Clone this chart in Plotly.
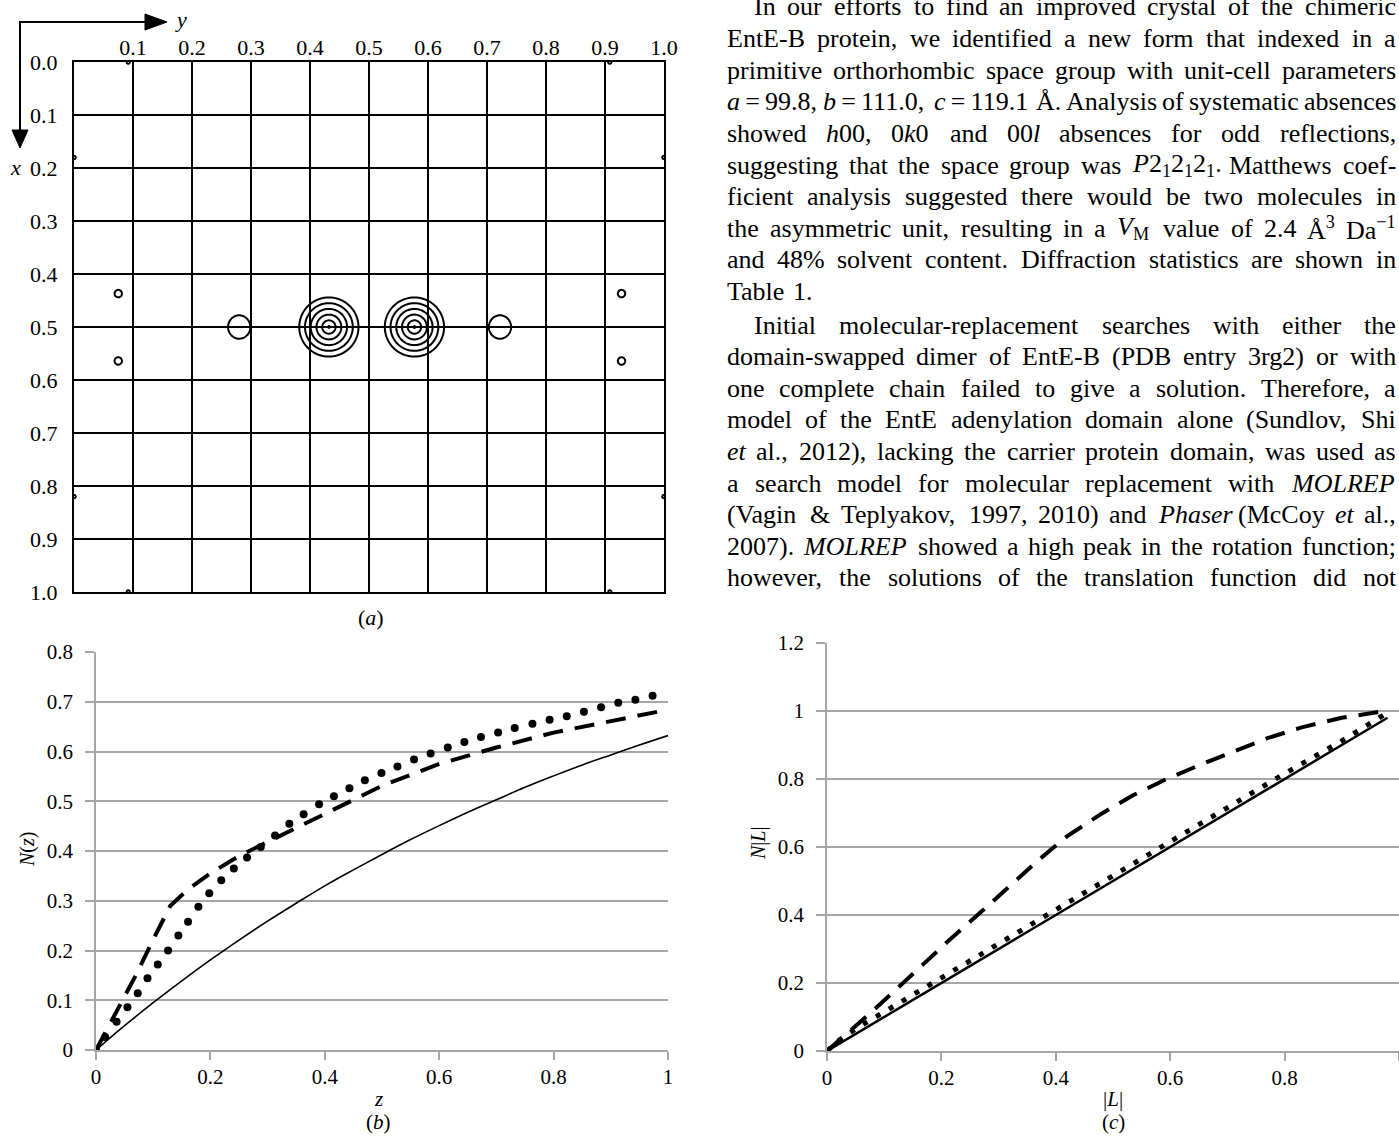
import re
import numpy as np
import plotly.graph_objects as go

W, H = 1399, 1136
def PX(x): return x / W
def PY(y): return 1 - y / H

SERIF = "Liberation Serif"

# ---------------- Panel (a): peaks of the map (y, x, height, width_y, width_x) -------------
peak_y  = [0.432, 0.577, 0.280, 0.722, 0.075, 0.075, 0.928, 0.928,
           0.092, 0.908, 0.092, 0.908, 0.0, 1.0, 0.0, 1.0]
peak_x  = [0.500, 0.500, 0.500, 0.500, 0.437, 0.564, 0.437, 0.564,
           0.0, 0.0, 1.0, 1.0, 0.18, 0.18, 0.82, 0.82]
peak_h  = [1.0, 1.0, 0.2, 0.2, 0.12, 0.12, 0.12, 0.12,
           0.1, 0.1, 0.1, 0.1, 0.1, 0.1, 0.1, 0.1]
peak_wy = [0.054, 0.054, 0.029, 0.029, 0.015, 0.015, 0.015, 0.015,
           0.010, 0.010, 0.010, 0.010, 0.010, 0.010, 0.010, 0.010]
peak_wx = [0.060, 0.060, 0.034, 0.034, 0.017, 0.017, 0.017, 0.017,
           0.011, 0.011, 0.011, 0.011, 0.011, 0.011, 0.011, 0.011]
a_ticks = [0.0, 0.1, 0.2, 0.3, 0.4, 0.5, 0.6, 0.7, 0.8, 0.9, 1.0]
a_ticktext = ["0.0", "0.1", "0.2", "0.3", "0.4", "0.5", "0.6", "0.7", "0.8", "0.9", "1.0"]

# ---------------- Panel (b): N(z) -----------------
b_theory_z = [0, 0.02, 0.05, 0.1, 0.15, 0.2, 0.25, 0.3, 0.35, 0.4, 0.45, 0.5, 0.55, 0.6, 0.65,
              0.7, 0.75, 0.8, 0.85, 0.9, 0.95, 1.0]
b_theory_n = [0, 0.020, 0.049, 0.095, 0.139, 0.181, 0.221, 0.259, 0.295, 0.330, 0.362, 0.393,
              0.423, 0.451, 0.478, 0.503, 0.528, 0.551, 0.573, 0.593, 0.613, 0.632]
b_dash_z = [0, 0.03, 0.07, 0.10, 0.13, 0.16, 0.2, 0.25, 0.3, 0.35, 0.4, 0.5, 0.6, 0.7, 0.8, 0.9, 1.0]
b_dash_n = [0, 0.063, 0.151, 0.222, 0.290, 0.322, 0.355, 0.390, 0.418, 0.448, 0.476, 0.531,
            0.575, 0.608, 0.638, 0.661, 0.684]
b_dot_z = [0.0, 0.016, 0.036, 0.055, 0.073, 0.090, 0.108, 0.126, 0.144, 0.161, 0.179, 0.198, 0.219,
           0.241, 0.264, 0.288, 0.313, 0.338, 0.363, 0.390, 0.416, 0.443, 0.470, 0.499, 0.527,
           0.556, 0.585, 0.615, 0.644, 0.673, 0.703, 0.732, 0.763, 0.793, 0.823, 0.853, 0.883,
           0.913, 0.943, 0.973]
b_dot_n = [0.0, 0.026, 0.057, 0.086, 0.114, 0.144, 0.172, 0.200, 0.230, 0.258, 0.288, 0.315, 0.341,
           0.365, 0.387, 0.408, 0.431, 0.455, 0.474, 0.494, 0.510, 0.526, 0.542, 0.557, 0.570,
           0.584, 0.596, 0.608, 0.619, 0.629, 0.638, 0.647, 0.656, 0.664, 0.671, 0.680, 0.689,
           0.698, 0.704, 0.712]
b_xticks = [0, 0.2, 0.4, 0.6, 0.8, 1.0]
b_xtext = ["0", "0.2", "0.4", "0.6", "0.8", "1"]
b_yticks = [0, 0.1, 0.2, 0.3, 0.4, 0.5, 0.6, 0.7, 0.8]
b_ytext = ["0", "0.1", "0.2", "0.3", "0.4", "0.5", "0.6", "0.7", "0.8"]

# ---------------- Panel (c): N|L| -----------------
c_theory_l = [0, 0.98]
c_theory_n = [0, 0.98]
c_dot_l = [0, 0.02, 0.05, 0.1, 0.2, 0.3, 0.4, 0.5, 0.6, 0.7, 0.8, 0.9, 0.975]
c_dot_n = [0, 0.030, 0.065, 0.115, 0.216, 0.316, 0.417, 0.517, 0.616, 0.716, 0.816, 0.912, 0.990]
c_dash_l = [0, 0.04, 0.08, 0.133, 0.17, 0.215, 0.27, 0.32, 0.37, 0.42, 0.48, 0.535, 0.59, 0.65,
            0.71, 0.77, 0.83, 0.9, 0.975]
c_dash_n = [0, 0.058, 0.118, 0.200, 0.258, 0.328, 0.410, 0.487, 0.562, 0.632, 0.698, 0.752, 0.797,
            0.840, 0.880, 0.920, 0.952, 0.980, 1.000]
c_xticks = [0, 0.2, 0.4, 0.6, 0.8, 1.0]
c_xtext = ["0", "0.2", "0.4", "0.6", "0.8", "1"]
c_yticks = [0, 0.2, 0.4, 0.6, 0.8, 1.0, 1.2]
c_ytext = ["0", "0.2", "0.4", "0.6", "0.8", "1", "1.2"]

# ---------------- Body text -----------------
para1 = [
    "In our efforts to find an improved crystal of the chimeric",
    "EntE-B protein, we identified a new form that indexed in a",
    "primitive orthorhombic space group with unit-cell parameters",
    "<i>a</i>\u2009=\u200999.8, <i>b</i>\u2009=\u2009111.0, <i>c</i>\u2009=\u2009119.1 Å. Analysis of systematic absences",
    "showed <i>h</i>00, 0<i>k</i>0 and 00<i>l</i> absences for odd reflections,",
    "suggesting that the space group was <i>P</i>2<sub>1</sub>2<sub>1</sub>2<sub>1</sub>. Matthews coef-",
    "ficient analysis suggested there would be two molecules in",
    "the asymmetric unit, resulting in a <i>V</i><sub>M</sub> value of 2.4 Å<sup>3</sup> Da<sup>\u22121</sup>",
    "and 48% solvent content. Diffraction statistics are shown in",
    "Table 1.",
]
para2 = [
    "Initial molecular-replacement searches with either the",
    "domain-swapped dimer of EntE-B (PDB entry 3rg2) or with",
    "one complete chain failed to give a solution. Therefore, a",
    "model of the EntE adenylation domain alone (Sundlov, Shi",
    "<i>et al.</i>, 2012), lacking the carrier protein domain, was used as",
    "a search model for molecular replacement with <i>MOLREP</i>",
    "(Vagin & Teplyakov, 1997, 2010) and <i>Phaser</i> (McCoy <i>et al.</i>,",
    "2007). <i>MOLREP</i> showed a high peak in the rotation function;",
    "however, the solutions of the translation function did not",
]

fig = go.Figure()

# ---------- (a) contour map ----------
gy = np.linspace(0, 1, 591)
gx = np.linspace(0, 1, 531)
YY, XX = np.meshgrid(gy, gx)
Z = np.zeros_like(YY)
for yy, xx, hh, wy, wx in zip(peak_y, peak_x, peak_h, peak_wy, peak_wx):
    d = np.sqrt(((YY - yy) / wy) ** 2 + ((XX - xx) / wx) ** 2)
    Z += hh * np.clip(1 - d, 0, None)

fig.add_trace(go.Contour(
    x=gy, y=gx, z=Z, xaxis="x", yaxis="y",
    contours=dict(coloring="lines", start=0.07, end=0.98, size=0.18, showlabels=False),
    colorscale=[[0, "black"], [1, "black"]], line=dict(width=2),
    showscale=False, hoverinfo="skip"))

# ---------- (b) ----------
fig.add_trace(go.Scatter(x=b_theory_z, y=b_theory_n, mode="lines", xaxis="x2", yaxis="y2",
                         line=dict(color="black", width=1.6), line_shape="spline", showlegend=False))
fig.add_trace(go.Scatter(x=b_dash_z, y=b_dash_n, mode="lines", xaxis="x2", yaxis="y2",
                         line=dict(color="black", width=4, dash="20px,12px"), showlegend=False))
fig.add_trace(go.Scatter(x=b_dot_z, y=b_dot_n, mode="markers", xaxis="x2", yaxis="y2",
                         marker=dict(color="black", size=8, line=dict(width=0)), showlegend=False))

# ---------- (c) ----------
fig.add_trace(go.Scatter(x=c_theory_l, y=c_theory_n, mode="lines", xaxis="x3", yaxis="y3",
                         line=dict(color="black", width=2.5), showlegend=False))
fig.add_trace(go.Scatter(x=c_dot_l, y=c_dot_n, mode="lines", xaxis="x3", yaxis="y3",
                         line=dict(color="black", width=5, dash="5px,10px"), showlegend=False))
fig.add_trace(go.Scatter(x=c_dash_l, y=c_dash_n, mode="lines", xaxis="x3", yaxis="y3",
                         line=dict(color="black", width=4, dash="20px,12px"), showlegend=False))

GRID = "#a6a6a6"
tickfont_a = dict(family=SERIF, size=22, color="black")
tickfont_bc = dict(family=SERIF, size=21, color="black")

layout = dict(
    template="none",
    width=W, height=H, margin=dict(l=0, r=0, t=0, b=0, pad=0, autoexpand=False),
    font=dict(family=SERIF, color="black"),
    paper_bgcolor="white", plot_bgcolor="white", showlegend=False,
    xaxis=dict(domain=[PX(74), PX(664)], range=[0, 1], side="top", anchor="y", automargin=False,
               tickvals=a_ticks[1:], ticktext=a_ticktext[1:], ticks="", ticklabelstandoff=-4,
               showgrid=True, gridcolor="black", gridwidth=2.2, zeroline=False,
               showline=True, linecolor="black", linewidth=2.2, mirror=True, tickfont=tickfont_a),
    yaxis=dict(domain=[PY(592), PY(62)], range=[1, 0], anchor="x", automargin=False,
               tickvals=a_ticks, ticktext=a_ticktext, ticks="", ticklabelstandoff=10,
               showgrid=True, gridcolor="black", gridwidth=2.2, zeroline=False,
               showline=True, linecolor="black", linewidth=2.2, mirror=True, tickfont=tickfont_a),
    xaxis2=dict(domain=[PX(96), PX(668)], range=[0, 1], anchor="y2", automargin=False,
                tickvals=b_xticks, ticktext=b_xtext, ticks="outside", ticklen=8, tickwidth=1.5,
                tickcolor=GRID, ticklabelstandoff=-1, showgrid=False, zeroline=False,
                showline=True, linecolor=GRID, linewidth=2, tickfont=tickfont_bc),
    yaxis2=dict(domain=[PY(1050), PY(652)], range=[0, 0.8], anchor="x2", automargin=False,
                tickvals=b_yticks, ticktext=b_ytext, ticks="outside", ticklen=9, tickwidth=2,
                tickcolor=GRID, ticklabelstandoff=8, showgrid=True, gridcolor=GRID, gridwidth=2,
                zeroline=False, showline=True, linecolor=GRID, linewidth=1.5, tickfont=tickfont_bc),
    xaxis3=dict(domain=[PX(827), 1.0], range=[0, 1], anchor="y3", automargin=False,
                tickvals=c_xticks, ticktext=c_xtext, ticks="outside", ticklen=8, tickwidth=1.5,
                tickcolor=GRID, ticklabelstandoff=-1, showgrid=False, zeroline=False,
                showline=True, linecolor=GRID, linewidth=2, tickfont=tickfont_bc),
    yaxis3=dict(domain=[PY(1051), PY(643)], range=[0, 1.2], anchor="x3", automargin=False,
                tickvals=c_yticks, ticktext=c_ytext, ticks="outside", ticklen=9, tickwidth=2,
                tickcolor=GRID, ticklabelstandoff=8, showgrid=True, gridcolor=GRID, gridwidth=2,
                zeroline=False, showline=True, linecolor=GRID, linewidth=1.5, tickfont=tickfont_bc),
)
fig.update_layout(**layout)

ann = []
def label(text, x, y, size=22, angle=0, xanchor="center"):
    ann.append(dict(text=text, x=PX(x), y=PY(y), xref="paper", yref="paper", showarrow=False,
                    xanchor=xanchor, yanchor="middle", textangle=angle, borderpad=0, borderwidth=0,
                    font=dict(family=SERIF, size=size, color="black")))

# panel (a) labels and axis arrows
label("<i>y</i>", 181, 20, 22)
label("<i>x</i>", 15, 167, 22)
label("(<i>a</i>)", 371, 617, 22)
shapes = [
    dict(type="line", xref="paper", yref="paper", x0=PX(20), y0=PY(22), x1=PX(150), y1=PY(22),
         line=dict(color="black", width=2)),
    dict(type="path", xref="paper", yref="paper",
         path=f"M {PX(145)} {PY(14)} L {PX(167)} {PY(22)} L {PX(145)} {PY(30)} Z",
         fillcolor="black", line=dict(color="black", width=1)),
    dict(type="line", xref="paper", yref="paper", x0=PX(20), y0=PY(21), x1=PX(20), y1=PY(135),
         line=dict(color="black", width=2)),
    dict(type="path", xref="paper", yref="paper",
         path=f"M {PX(12)} {PY(130)} L {PX(20)} {PY(148)} L {PX(28)} {PY(130)} Z",
         fillcolor="black", line=dict(color="black", width=1)),
]

# panel (b) / (c) titles
label("<i>N</i>(<i>z</i>)", 28, 850, 20, angle=-90)
label("<i>z</i>", 378, 1099, 21)
label("(<i>b</i>)", 378, 1122, 21)
label("<i>N</i>|<i>L</i>|", 758, 843, 20, angle=-90)
label("|<i>L</i>|", 1113, 1099, 21)
label("(<i>c</i>)", 1113, 1122, 21)

# ---------- justified body text ----------
TW = {' ': 250, 'a': 444, 'b': 500, 'c': 444, 'd': 500, 'e': 444, 'f': 333, 'g': 500, 'h': 500,
      'i': 278, 'j': 278, 'k': 500, 'l': 278, 'm': 778, 'n': 500, 'o': 500, 'p': 500, 'q': 500,
      'r': 333, 's': 389, 't': 278, 'u': 500, 'v': 500, 'w': 722, 'x': 500, 'y': 500, 'z': 444,
      'A': 722, 'B': 667, 'C': 667, 'D': 722, 'E': 611, 'F': 556, 'G': 722, 'H': 722, 'I': 333,
      'J': 389, 'K': 722, 'L': 611, 'M': 889, 'N': 722, 'O': 722, 'P': 556, 'Q': 722, 'R': 667,
      'S': 556, 'T': 611, 'U': 722, 'V': 722, 'W': 944, 'X': 722, 'Y': 722, 'Z': 611,
      '.': 250, ',': 250, '-': 333, '(': 333, ')': 333, ';': 278, ':': 278, '%': 833, '&': 778,
      '=': 564, 'Å': 722, '\u2212': 564, '\u2009': 250}
FS = 26
def tw(s, size=FS):
    total, scale = 0.0, 1.0
    for t in re.split(r'(<[^>]+>)', s):
        if t.startswith('<'):
            if t in ('<sub>', '<sup>'):
                scale = 0.7
            elif t in ('</sub>', '</sup>'):
                scale = 1.0
            continue
        for ch in t:
            total += TW.get(ch, 500) * scale
    return total * size / 1000.0

COL_L, COL_R, INDENT, LEAD = 727, 1396, 27, 31.6
def set_paragraph(lines, y0, last_is_short):
    for i, line in enumerate(lines):
        words = line.split(" ")
        y = y0 + i * LEAD
        start = COL_L + (INDENT if i == 0 else 0)
        widths = [tw(w) for w in words]
        last = last_is_short and (i == len(lines) - 1)
        if len(words) > 1 and not last:
            gap = (COL_R - start - sum(widths)) / (len(words) - 1)
        else:
            gap = 0.25 * FS
        xcur = start
        for w, wd in zip(words, widths):
            label(w, xcur, y, FS, xanchor="left")
            xcur += wd + gap

set_paragraph(para1, 7, True)
set_paragraph(para2, 325, False)

fig.update_layout(annotations=ann, shapes=shapes)
fig.write_html("out.html", config={"displayModeBar": False},
               post_script="document.body.style.margin='0px';document.body.style.padding='0px';"
                           "document.body.style.overflow='hidden';")
